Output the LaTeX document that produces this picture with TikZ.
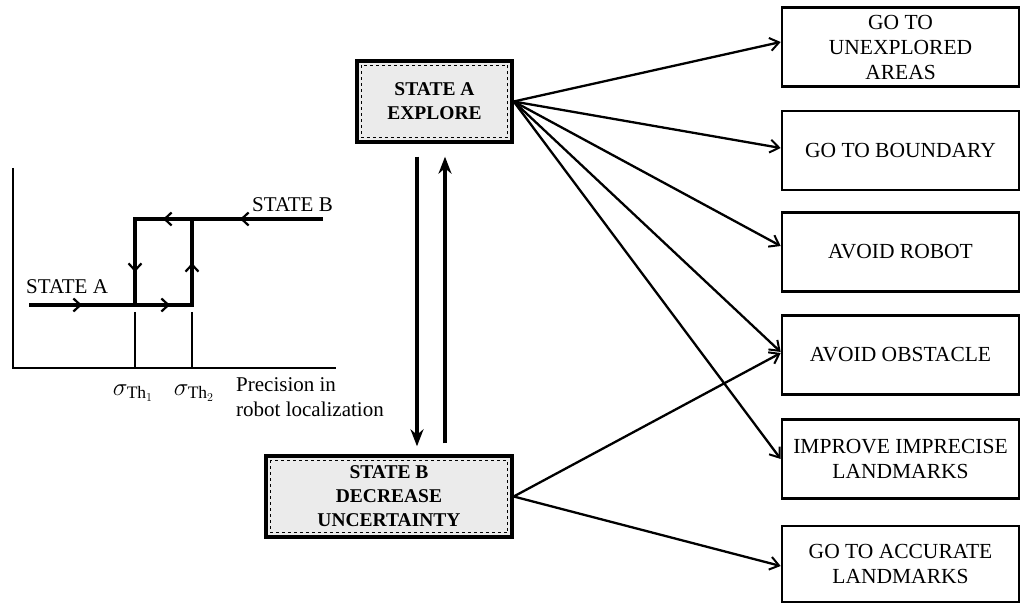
\documentclass[tikz,border=0pt]{standalone}
\usepackage{fontspec}
\setmainfont{Liberation Serif}
\usetikzlibrary{arrows.meta,decorations.markings}
\begin{document}
\begin{tikzpicture}[x=1pt,y=-1pt,
  actbox/.style={draw,line width=2.6pt,minimum width=237pt,minimum height=79pt,inner sep=2pt,align=center,font=\fontsize{21.5}{25}\selectfont},
  statebox/.style={draw,line width=3.4pt,fill=gray!16,align=center,inner sep=0pt,font=\bfseries\fontsize{19.5}{24}\selectfont},
  link/.style={line width=2.3pt,-{Straight Barb[length=9pt,width=13pt,line width=2pt]}},
  bigarrow/.style={line width=3.6pt,-{Stealth[length=17pt,width=13pt]}},
  gline/.style={line width=3.3pt,line join=miter},
  lbl/.style={font=\fontsize{21}{25}\selectfont,inner sep=0pt},
  gbarb/.tip={Straight Barb[length=7pt,width=13pt,line width=2.2pt]}
]
\useasboundingbox (0,0) rectangle (1021,604);

% state boxes
\node[statebox,minimum width=155pt,minimum height=81pt] (A) at (434.5,101.5) {STATE A\\EXPLORE};
\node[statebox,minimum width=246pt,minimum height=81pt] (B) at (389,496.5) {STATE B\\DECREASE\\UNCERTAINTY};
\draw[dashed,line width=0.6pt] ([shift={(6pt,-6pt)}]A.north west) rectangle ([shift={(-6pt,6pt)}]A.south east);
\draw[dashed,line width=0.6pt] ([shift={(6pt,-6pt)}]B.north west) rectangle ([shift={(-6pt,6pt)}]B.south east);

% behaviour boxes
\node[actbox] (g1) at (900.5,47) {GO TO\\UNEXPLORED\\AREAS};
\node[actbox] (g2) at (900.5,150.5) {GO TO BOUNDARY};
\node[actbox] (g3) at (900.5,252) {AVOID ROBOT};
\node[actbox] (g4) at (900.5,355) {AVOID OBSTACLE};
\node[actbox] (g5) at (900.5,459) {IMPROVE IMPRECISE\\LANDMARKS};
\node[actbox,minimum height=76pt] (g6) at (900.5,564) {GO TO ACCURATE\\LANDMARKS};

% links
\draw[link] (A.east) -- ([yshift=5pt]g1.west);
\draw[link] (A.east) -- ([yshift=2.5pt]g2.west);
\draw[link] (A.east) -- ([yshift=6pt]g3.west);
\draw[link] (A.east) -- ([yshift=3pt]g4.west);
\draw[link] (A.east) -- (g5.west);
\draw[link] (B.east) -- ([yshift=2pt]g4.west);
\draw[link] (B.east) -- ([yshift=-2pt]g6.west);

% transitions
\path (A.south) ++(-17.5,13) coordinate (d1);
\path (A.south |- B.north) ++(-17.5,-8) coordinate (d2);
\path (A.south |- B.north) ++(10.5,-11) coordinate (u1);
\path (A.south) ++(10.5,13) coordinate (u2);
\draw[bigarrow] (d1) -- (d2);
\draw[bigarrow] (u1) -- (u2);

% hysteresis graph
\draw[line width=2.7pt] (13,168) -- (13,368) -- (336,368);
\draw[gline,postaction={decorate},decoration={markings,
   mark=at position 53pt with {\arrow{gbarb}},
   mark=at position 141pt with {\arrow{gbarb}},
   mark=at position 205pt with {\arrow{gbarb}}}]
   (29,305) -- (192,305) -- (192,219);
\draw[gline,postaction={decorate},decoration={markings,
   mark=at position 83pt with {\arrow{gbarb}},
   mark=at position 160pt with {\arrow{gbarb}},
   mark=at position 241pt with {\arrow{gbarb}}}]
   (323,219) -- (135,219) -- (135,305);
\draw[line width=1.7pt] (135,312) -- (135,368);
\draw[line width=1.7pt] (192,312) -- (192,368);

\node[lbl,anchor=base east] (lb) at (333,212) {STATE B};
\node[lbl,anchor=base west] (la) at (26,294) {STATE A};
\node[lbl,font=\fontsize{25}{25}\selectfont] (s1) at (133,393) {$\sigma_{\mathrm{Th}_1}$};
\node[lbl,font=\fontsize{25}{25}\selectfont] (s2) at (194,393) {$\sigma_{\mathrm{Th}_2}$};
\node[lbl,anchor=north west,align=left] (prec) at (236,377) {Precision in\\robot localization};
\end{tikzpicture}
\end{document}
